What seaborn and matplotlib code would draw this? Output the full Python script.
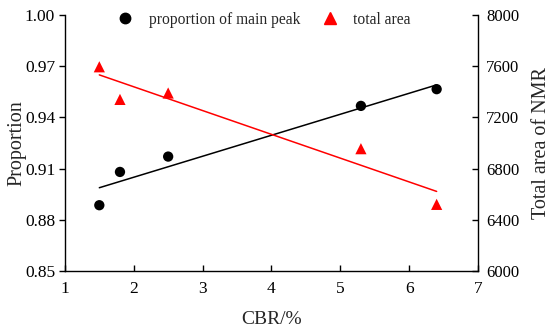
import matplotlib
matplotlib.use("Agg")
import matplotlib.pyplot as plt
import seaborn as sns
import numpy as np
import pandas as pd
from matplotlib.lines import Line2D

cbr = [1.5, 1.8, 2.5, 5.3, 6.4]
proportion = [0.8885, 0.908, 0.917, 0.9467, 0.9565]
total_area = [7595, 7340, 7390, 6955, 6520]

x_ticks = [1, 2, 3, 4, 5, 6, 7]
left_ticks = [0.85, 0.88, 0.91, 0.94, 0.97, 1.00]
right_ticks = [6000, 6400, 6800, 7200, 7600, 8000]

sns.set_style("white")
plt.rcParams['font.family'] = ['Liberation Serif', 'DejaVu Serif']

df = pd.DataFrame({"cbr": cbr, "proportion": proportion, "area": total_area})

fig = plt.figure(figsize=(5.5, 3.32), dpi=100)
ax = fig.add_axes([0.118, 0.184, 0.751, 0.771])
ax2 = ax.twinx()

sns.regplot(data=df, x="cbr", y="proportion", ax=ax, ci=None, scatter=False,
            truncate=True, color="black", line_kws=dict(lw=1.1))
sns.scatterplot(data=df, x="cbr", y="proportion", ax=ax, color="black",
                marker="o", s=55, edgecolor="none", zorder=3)

sns.regplot(data=df, x="cbr", y="area", ax=ax2, ci=None, scatter=False,
            truncate=True, color="red", line_kws=dict(lw=1.1))
sns.scatterplot(data=df, x="cbr", y="area", ax=ax2, color="red",
                marker="^", s=65, edgecolor="none", zorder=3)

ax.set_xlim(1, 7)
ax.set_ylim(0.85, 1.00)
ax2.set_ylim(6000, 8000)
ax.set_xticks(x_ticks)
ax.set_xticklabels([str(t) for t in x_ticks])
ax.set_yticks(left_ticks)
ax.set_yticklabels([f"{t:.2f}" for t in left_ticks])
ax2.set_yticks(right_ticks)
ax2.set_yticklabels([str(t) for t in right_ticks])

ax.set_xlabel("CBR/%", fontsize=14, labelpad=10)
ax.set_ylabel("Proportion", fontsize=14.5, labelpad=-1)
ax2.set_ylabel("Total area of NMR", fontsize=14.5, labelpad=9)

for a in (ax, ax2):
    a.spines['top'].set_visible(False)
    for s in ('left', 'right', 'bottom'):
        a.spines[s].set_color('black')
        a.spines[s].set_linewidth(1.0)
ax.spines['right'].set_visible(False)
ax2.spines['left'].set_visible(False)
ax2.spines['bottom'].set_visible(False)

ax.tick_params(axis='y', direction='out', length=4, width=1, labelsize=12.5, left=True, colors='black', pad=3)
ax.tick_params(axis='x', direction='in', length=4, width=1, labelsize=12.5, bottom=True, pad=7, colors='black')
ax2.tick_params(axis='y', direction='in', length=4, width=1, labelsize=12, right=True, colors='black', pad=6)

handles = [
    Line2D([], [], marker='o', color='black', linestyle='none', markersize=7.5),
    Line2D([], [], marker='^', color='red', linestyle='none', markersize=8),
]
fig.legend(handles, ["proportion of main peak", "total area"], ncol=2, frameon=False,
           loc='center', bbox_to_anchor=(0.473, 0.94), fontsize=11.2,
           columnspacing=0.9, handletextpad=0.5)

fig.savefig("out.png", dpi=100)
